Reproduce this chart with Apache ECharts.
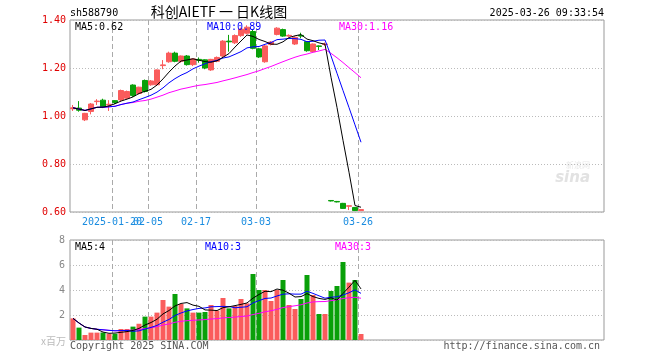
<!DOCTYPE html>
<html><head><meta charset="utf-8">
<script src="https://cdn.jsdelivr.net/npm/echarts@6/dist/echarts.min.js"></script>
<style>html,body{margin:0;padding:0;background:#fff}#c{width:660px;height:360px}</style>
</head><body><div id="c"></div>
<script>
const code = 'sh588790';
const chartTitle = '科创AIETF 一 日K线图';
const stamp = '2025-03-26 09:33:54';
const dates = ['2025-01-09','2025-01-10','2025-01-13','2025-01-14','2025-01-15','2025-01-16','2025-01-17',
'2025-01-20','2025-01-21','2025-01-22','2025-01-23','2025-01-24','2025-01-27','2025-02-05','2025-02-06','2025-02-07',
'2025-02-10','2025-02-11','2025-02-12','2025-02-13','2025-02-14','2025-02-17','2025-02-18','2025-02-19','2025-02-20',
'2025-02-21','2025-02-24','2025-02-25','2025-02-26','2025-02-27','2025-02-28','2025-03-03','2025-03-04','2025-03-05',
'2025-03-06','2025-03-07','2025-03-10','2025-03-11','2025-03-12','2025-03-13','2025-03-14','2025-03-17','2025-03-18',
'2025-03-19','2025-03-20','2025-03-21','2025-03-24','2025-03-25','2025-03-26'];
const opens  = [1.030,1.033,0.984,1.019,1.060,1.066,1.046,1.064,1.067,1.074,1.129,1.094,1.148,1.130,1.130,1.210,1.226,1.262,1.228,1.250,1.214,1.236,1.234,1.192,1.228,1.250,1.312,1.305,1.335,1.345,1.352,1.280,1.226,1.298,1.340,1.360,1.333,1.300,1.336,1.310,1.268,1.292,1.298,0.648,0.644,0.636,0.624,0.619,0.606];
const closes = [1.034,1.024,1.011,1.050,1.062,1.038,1.049,1.056,1.106,1.102,1.085,1.120,1.102,1.146,1.192,1.213,1.262,1.228,1.250,1.214,1.238,1.232,1.200,1.236,1.244,1.312,1.309,1.335,1.362,1.370,1.282,1.246,1.292,1.308,1.366,1.333,1.336,1.328,1.333,1.272,1.300,1.290,1.300,0.646,0.642,0.615,0.626,0.606,0.610];
const lows   = [1.021,1.018,0.979,1.007,1.046,1.033,1.021,1.050,1.060,1.070,1.080,1.090,1.098,1.126,1.126,1.195,1.222,1.224,1.222,1.210,1.208,1.222,1.195,1.188,1.224,1.246,1.268,1.300,1.330,1.340,1.278,1.242,1.222,1.294,1.336,1.330,1.330,1.296,1.324,1.268,1.264,1.275,1.292,0.644,0.640,0.613,0.608,0.604,0.604];
const highs  = [1.046,1.062,1.013,1.054,1.070,1.072,1.066,1.066,1.110,1.106,1.132,1.122,1.152,1.150,1.194,1.233,1.268,1.268,1.252,1.254,1.240,1.244,1.236,1.238,1.248,1.316,1.338,1.340,1.368,1.378,1.362,1.284,1.296,1.312,1.370,1.364,1.340,1.332,1.347,1.312,1.302,1.294,1.306,0.650,0.646,0.638,0.627,0.621,0.611];
const volumes = [1.73,0.99,0.40,0.59,0.59,0.60,0.50,0.50,0.88,0.88,1.07,1.30,1.87,1.87,2.19,3.20,2.67,3.68,2.88,2.53,2.19,2.19,2.24,2.80,2.35,3.36,2.53,2.72,3.28,2.93,5.28,4.00,4.00,3.12,4.00,4.80,2.80,2.48,3.28,5.20,3.60,2.08,2.08,3.92,4.32,6.24,4.59,4.80,0.48];
const tickDates = ['2025-01-20','2025-02-05','2025-02-17','2025-03-03','2025-03-26'];
const priceTicks = [0.60, 0.80, 1.00, 1.20, 1.40];
const volumeTicks = [0, 2, 4, 6, 8];
const maPeriods = [5, 10, 30];
const slotCount = 89;

const RED = '#fa5c5c', GREEN = '#09a009';
const maColors = ['#000000', '#0000ff', '#ff00ff'];
const MONO = '10px "DejaVu Sans Mono"';

function ma(arr, n) {
  return arr.map((v, i) => {
    const s = arr.slice(Math.max(0, i - n + 1), i + 1);
    return s.reduce((a, b) => a + b, 0) / s.length;
  });
}
const slots = [];
for (let j = 0; j < slotCount; j++) slots.push(j < dates.length ? dates[j] : 'pad' + j);
const bounds = [];
for (let j = 0; j <= slotCount; j++) bounds.push(j < dates.length ? dates[j] : 'b' + j);
const isTick = (idx, val) => tickDates.indexOf(val) >= 0;
const isFirstTick = (idx, val) => val === tickDates[0];
const isLaterTick = (idx, val) => tickDates.indexOf(val) > 0;

const candleData = dates.map((d, i) => [opens[i], closes[i], lows[i], highs[i]]);
const priceMA = maPeriods.map(n => ma(closes, n));
const volMA = maPeriods.map(n => ma(volumes, n));
const last = dates.length - 1;

const G0 = {left: 70, top: 20, width: 534, height: 192};
const G1 = {left: 70, top: 240, width: 534, height: 100};

const dashed = {show: true, interval: isTick, lineStyle: {color: '#aaa', type: [5, 3], width: 1}};
const dotted = {show: true, lineStyle: {color: '#bbb', type: [1, 2], width: 1}};

const hiddenCat = (gi) => ({type: 'category', gridIndex: gi, data: slots, boundaryGap: true, position: 'top',
  axisLine: {show: false}, axisTick: {show: false}, axisLabel: {show: false}, splitLine: {show: false}});
const boundCat = (gi, labelFilter, split) => ({type: 'category', gridIndex: gi, data: bounds, boundaryGap: false, position: 'bottom',
  axisLine: {show: false}, axisTick: {show: false},
  axisLabel: labelFilter ? {show: true, interval: labelFilter, hideOverlap: false, margin: 5, color: '#1a8ce0',
    fontFamily: 'DejaVu Sans Mono', fontSize: 10,
    formatter: v => v === tickDates[0] ? v : v.slice(5)} : {show: false},
  splitLine: split ? dashed : {show: false}});

const maLabels = maPeriods.map((n, k) => 'MA' + n + ':' + priceMA[k][last].toFixed(2));
const volLabels = maPeriods.map((n, k) => 'MA' + n + ':' + Math.floor(volMA[k][last]));
const labelX = [75, 207, 339];

const graphics = [
  {type: 'text', x: 70, y: 13, style: {text: code, fill: '#000', font: MONO, textAlign: 'left', textVerticalAlign: 'middle'}},
  {type: 'text', x: 219, y: 12, style: {text: chartTitle, fill: '#000', font: '14px "Noto Sans CJK SC"', textAlign: 'center', textVerticalAlign: 'middle'}},
  {type: 'text', x: 604, y: 13, style: {text: stamp, fill: '#000', font: MONO, textAlign: 'right', textVerticalAlign: 'middle'}},
  {type: 'text', x: 70, y: 346, style: {text: 'Copyright 2025 SINA.COM', fill: '#555', font: MONO, textAlign: 'left', textVerticalAlign: 'middle'}},
  {type: 'text', x: 600, y: 346, style: {text: 'http://finance.sina.com.cn', fill: '#555', font: MONO, textAlign: 'right', textVerticalAlign: 'middle'}},
  {type: 'text', x: 66, y: 341, style: {text: 'x百万', fill: '#bbb', font: '10px "Noto Sans CJK SC"', textAlign: 'right', textVerticalAlign: 'middle'}},
  {type: 'text', x: 590, y: 178, style: {text: 'sina', fill: '#e2e2e2', font: 'italic bold 15px "DejaVu Sans"', textAlign: 'right', textVerticalAlign: 'middle'}},
  {type: 'text', x: 590, y: 165, style: {text: '新浪网', fill: '#e8e8e8', font: '8px "Noto Sans CJK SC"', textAlign: 'right', textVerticalAlign: 'middle'}}
];
maLabels.forEach((t, k) => graphics.push({type: 'text', x: labelX[k], y: 27, z: 100,
  style: {text: t, fill: maColors[k], font: MONO, textAlign: 'left', textVerticalAlign: 'middle'}}));
volLabels.forEach((t, k) => graphics.push({type: 'text', x: [75, 205, 335][k], y: 247, z: 100,
  style: {text: t, fill: maColors[k], font: MONO, textAlign: 'left', textVerticalAlign: 'middle'}}));

const gridStyle = {show: true, borderColor: '#999', borderWidth: 1, backgroundColor: 'transparent'};
const option = {
  animation: false,
  backgroundColor: '#fff',
  grid: [Object.assign({}, gridStyle, G0), Object.assign({}, gridStyle, G1)],
  xAxis: [hiddenCat(0), boundCat(0, isLaterTick, true), hiddenCat(1), boundCat(1, null, true), boundCat(0, isFirstTick, false)],
  yAxis: [
    {type: 'value', gridIndex: 0, min: priceTicks[0], max: priceTicks[priceTicks.length - 1], interval: 0.2,
     axisLine: {show: false}, axisTick: {show: false}, splitLine: dotted,
     axisLabel: {color: '#e00000', margin: 4, fontFamily: 'DejaVu Sans Mono', fontSize: 10, formatter: v => v.toFixed(2)}},
    {type: 'value', gridIndex: 1, min: volumeTicks[0], max: volumeTicks[volumeTicks.length - 1], interval: 2,
     axisLine: {show: false}, axisTick: {show: false}, splitLine: dotted,
     axisLabel: {color: '#888', margin: 5, fontFamily: 'DejaVu Sans Mono', fontSize: 10, formatter: v => v === 0 ? '' : String(v)}}
  ],
  graphic: graphics,
  series: [
    {type: 'candlestick', xAxisIndex: 0, yAxisIndex: 0, data: candleData, barWidth: 5,
     itemStyle: {color: RED, color0: GREEN, borderColor: RED, borderColor0: GREEN, borderWidth: 1}},
    ...priceMA.map((d, k) => ({type: 'line', xAxisIndex: 0, yAxisIndex: 0, data: d, showSymbol: false, symbol: 'none',
      lineStyle: {color: maColors[k], width: 1}, z: 3 + (2 - k)})),
    {type: 'bar', xAxisIndex: 2, yAxisIndex: 1, data: volumes, barWidth: 5,
     itemStyle: {color: p => closes[p.dataIndex] >= opens[p.dataIndex] ? RED : GREEN}},
    ...volMA.map((d, k) => ({type: 'line', xAxisIndex: 2, yAxisIndex: 1, data: d, showSymbol: false, symbol: 'none',
      lineStyle: {color: maColors[k], width: 1}, z: 3 + (2 - k)}))
  ]
};
const chart = echarts.init(document.getElementById('c'), null, {renderer: 'canvas'});
chart.setOption(option);
</script></body></html>
